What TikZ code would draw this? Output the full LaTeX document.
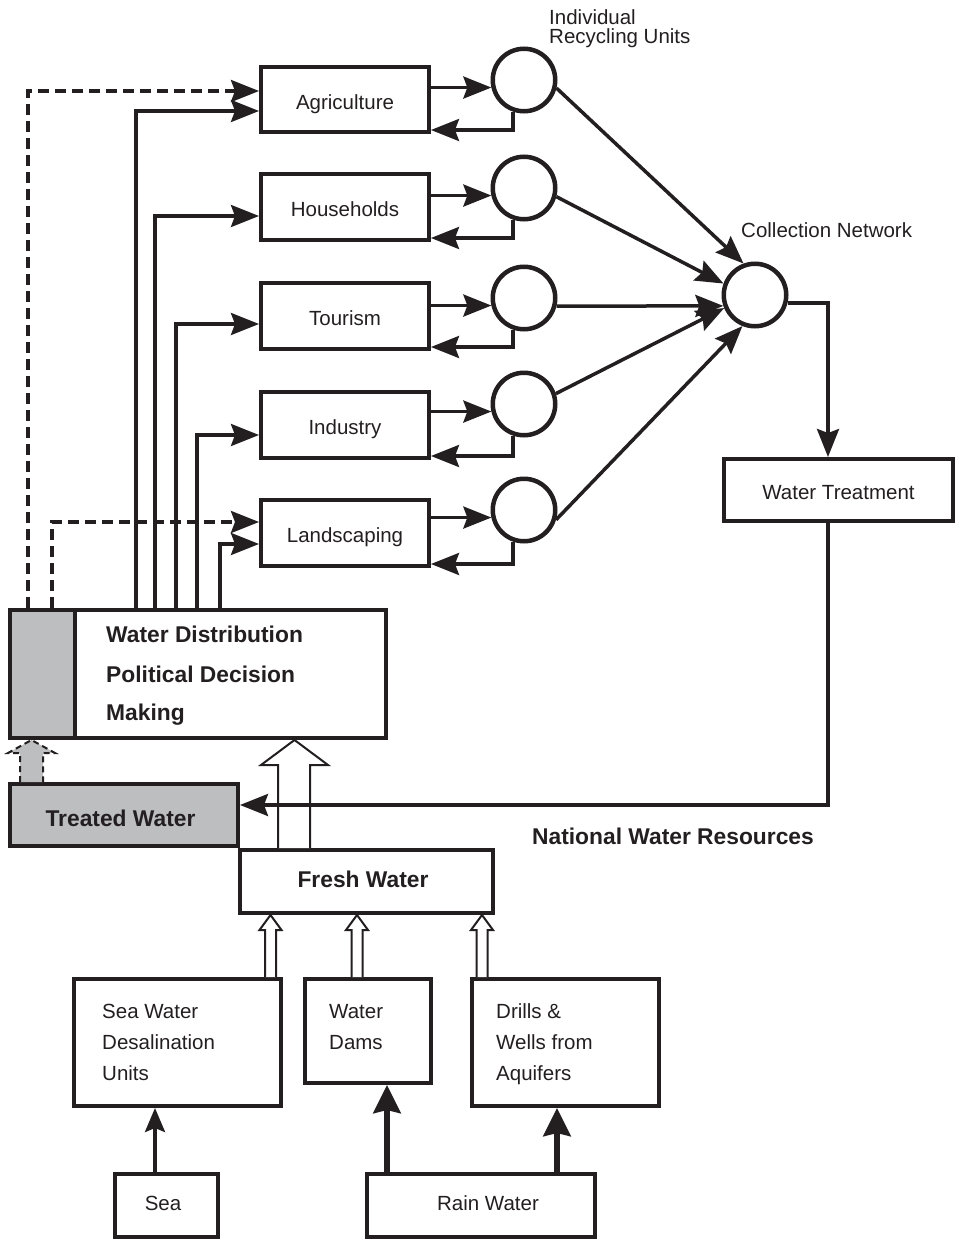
\documentclass[tikz,border=0pt]{standalone}
\usepackage{fontspec}
\setmainfont{Liberation Sans}
\usetikzlibrary{arrows.meta,calc}
\definecolor{ink}{HTML}{231F20}
\definecolor{greyfill}{HTML}{BCBEC0}
\tikzset{
 box/.style={draw=ink, line width=4.2pt, rectangle, inner sep=0pt, text=ink, text height=22pt, text depth=2.3pt, font=\fontsize{20.5}{24}\selectfont},
 rc/.style={draw=ink, line width=4.5pt, circle, minimum size=62.5pt, inner sep=0pt},
 lbl/.style={inner sep=0pt, text=ink, font=\fontsize{20.5}{24}\selectfont},
 blbl/.style={inner sep=0pt, text=ink, font=\bfseries\fontsize{22.8}{26}\selectfont},
 tip/.style={-{Stealth[length=28pt,width=22pt,inset=4pt]}},
 conn/.style={draw=ink, line width=3.5pt, tip},
 dconn/.style={conn, dash pattern=on 11pt off 6pt},
 blk/.style={draw=ink, line width=2pt, line join=miter, fill=white},
}
\begin{document}
\begin{tikzpicture}[x=1pt,y=-1pt]
\useasboundingbox (0,0) rectangle (956,1239);

% use boxes
\node[box, minimum width=167.8pt, minimum height=64.8pt] (agri) at (345,99.5) {Agriculture};
\node[box, minimum width=167.8pt, minimum height=65.8pt] (hh) at (345,207) {Households};
\node[box, minimum width=167.8pt, minimum height=65.8pt] (tour) at (345,316) {Tourism};
\node[box, minimum width=167.8pt, minimum height=65.8pt] (ind) at (345,425) {Industry};
\node[box, minimum width=167.8pt, minimum height=65.8pt] (land) at (345,533) {Landscaping};

% recycling units
\node[rc] (c1) at (524,80) {};
\node[rc] (c2) at (524,188) {};
\node[rc] (c3) at (524,298) {};
\node[rc] (c4) at (524,404) {};
\node[rc] (c5) at (524,510) {};
\node[rc] (cn) at (755,295) {};

\node[lbl, anchor=base west] (tiru1) at (549,25) {Individual};
\node[lbl, anchor=base west] (tiru2) at (549,44) {Recycling Units};
\node[lbl, anchor=base west] (tcn) at (741,237) {Collection Network};

\node[box, minimum width=228.8pt, minimum height=61.8pt] (wt) at (838.5,490) {Water Treatment};

% water distribution
\fill[greyfill] (8,608) rectangle (75,740);
\node[box, minimum width=375.8pt, minimum height=127.8pt] (wd) at (198,674) {};
\draw[ink, line width=4.2pt] (75,0 |- wd.north) -- (75,0 |- wd.south);
\node[blbl, anchor=base west] (wd1) at (106,642) {Water Distribution};
\node[blbl, anchor=base west] (wd2) at (106,682) {Political Decision};
\node[blbl, anchor=base west] (wd3) at (106,720) {Making};

\node[box, fill=greyfill, minimum width=227.8pt, minimum height=61.8pt] (tw) at (124,815) {};
\node[blbl, anchor=base] (twl) at (120.5,826) {Treated Water};
\node[box, minimum width=252.8pt, minimum height=62.8pt] (fw) at (366.5,881.5) {};
\node[blbl, anchor=base] (fwl) at (363,887) {Fresh Water};
\node[blbl, anchor=base] (nwr) at (673,844) {National Water Resources};

% sources
\node[box, minimum width=206.8pt, minimum height=126.8pt] (desal) at (177.5,1042.5) {};
\node[box, minimum width=125.8pt, minimum height=103.8pt] (dams) at (368,1031) {};
\node[box, minimum width=186.8pt, minimum height=126.8pt] (drills) at (565.5,1042.5) {};
\node[lbl, anchor=base west] (ds1) at (102,1018) {Sea Water};
\node[lbl, anchor=base west] (ds2) at (102,1049) {Desalination};
\node[lbl, anchor=base west] (ds3) at (102,1080) {Units};
\node[lbl, anchor=base west] (dm1) at (329,1018) {Water};
\node[lbl, anchor=base west] (dm2) at (329,1049) {Dams};
\node[lbl, anchor=base west] (dr1) at (496,1018) {Drills \&};
\node[lbl, anchor=base west] (dr2) at (496,1049) {Wells from};
\node[lbl, anchor=base west] (dr3) at (496,1080) {Aquifers};
\node[box, minimum width=102.8pt, minimum height=62.8pt] (sea) at (166.5,1205.5) {};
\node[lbl, anchor=base] (seal) at (163,1210) {Sea};
\node[box, minimum width=227.8pt, minimum height=62.8pt] (rain) at (481,1205.5) {};
\node[lbl, anchor=base] (rainl) at (488,1210) {Rain Water};

% box <-> recycling unit
\foreach \b/\c in {agri/c1, hh/c2, tour/c3, ind/c4, land/c5}{
  \draw[conn] (\b.east |- \c.193) -- (\c.193);
  \draw[conn] (\c.251) |- ($(\b.south east)+(0,-4)$);
}

% recycling units -> collection network
\draw[conn] (c1.346) -- (cn.110);
\draw[conn] (c2.345) -- (cn.160);
\draw[conn] (c3.346) -- (cn.199);
\draw[conn] (c4.18) -- (cn.203);
\draw[conn] (c5.343) -- (cn.248);

% collection -> treatment
\draw[conn] (cn.346) -| (828,0 |- wt.north);

% block arrows
\filldraw[blk, fill=greyfill, dash pattern=on 6pt off 4pt] (20,0 |- tw.north) -- (20,753) -- (8,753) -- (31.5,0 |- wd.south) -- (55,753) -- (43,753) -- (43,0 |- tw.north);
\filldraw[blk] (278,0 |- fw.north) -- (278,765) -- (261,765) -- (294.5,0 |- wd.south) -- (328,765) -- (310,765) -- (310,0 |- fw.north);
\foreach \cx/\src in {270.5/desal, 357/dams, 482/drills}{
  \filldraw[blk] (\cx-5.5,0 |- \src.north) -- (\cx-5.5,930) -- (\cx-11,930) -- (\cx,0 |- fw.south) -- (\cx+11,930) -- (\cx+5.5,930) -- (\cx+5.5,0 |- \src.north);
}

% treatment -> treated water
\draw[conn] (828,0 |- wt.south) |- (tw.east |- 0,805);

% distribution feed lines
\draw[dconn] (28,0 |- wd.north) |- (agri.west |- 0,91);
\draw[conn] (136,0 |- wd.north) |- (agri.west |- 0,111);
\draw[conn] (155,0 |- wd.north) |- (hh.west |- 0,216);
\draw[conn] (176,0 |- wd.north) |- (tour.west |- 0,324);
\draw[conn] (197,0 |- wd.north) |- (ind.west |- 0,435);
\draw[dconn] (52,0 |- wd.north) |- (land.west |- 0,522);
\draw[conn] (220,0 |- wd.north) |- (land.west |- 0,544);

% source inputs
\draw[conn, -{Stealth[length=24pt,width=20pt,inset=4pt]}] (155,0 |- sea.north) -- (155,0 |- desal.south);
\draw[ink, line width=6pt, -{Stealth[length=28pt,width=27pt,inset=3pt]}] (387,0 |- rain.north) -- (387,0 |- dams.south);
\draw[ink, line width=6pt, -{Stealth[length=28pt,width=27pt,inset=3pt]}] (557,0 |- rain.north) -- (557,0 |- drills.south);
\end{tikzpicture}
\end{document}
